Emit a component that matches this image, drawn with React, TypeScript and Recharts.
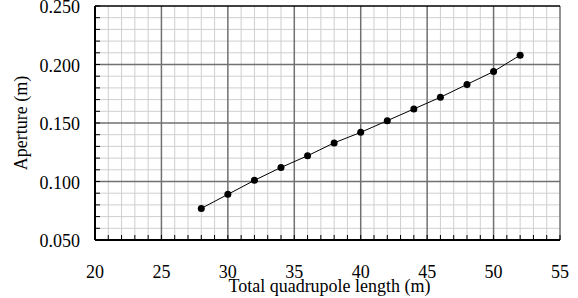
import React from 'react';
import { LineChart, Line, XAxis, YAxis, ReferenceLine, Label } from 'recharts';

const lengths = [28, 30, 32, 34, 36, 38, 40, 42, 44, 46, 48, 50, 52];
const apertures = [0.077, 0.089, 0.101, 0.112, 0.122, 0.133, 0.142, 0.152, 0.162, 0.172, 0.183, 0.194, 0.208];

const xMajor = [20, 25, 30, 35, 40, 45, 50, 55];
const xMinor = [21, 22, 23, 24, 26, 27, 28, 29, 31, 32, 33, 34, 36, 37, 38, 39, 41, 42, 43, 44, 46, 47, 48, 49, 51, 52, 53, 54];
const yMajor = [0.05, 0.1, 0.15, 0.2, 0.25];
const yMinor = [0.06, 0.07, 0.08, 0.09, 0.11, 0.12, 0.13, 0.14, 0.16, 0.17, 0.18, 0.19, 0.21, 0.22, 0.23, 0.24];

const data = lengths.map((len, i) => ({ len, ap: apertures[i] }));
const xTicks = [...xMajor, ...xMinor].sort((a, b) => a - b);
const yTicks = [...yMajor, ...yMinor].sort((a, b) => a - b);

const FONT = '"Liberation Serif", "Times New Roman", serif';

const XTick = (props: any) => {
  const { x, y, payload } = props;
  const major = xMajor.includes(payload.value);
  return (
    <g>
      <line x1={x} y1={y} x2={x} y2={y - 5} stroke="#000" strokeWidth={1} />
      {major && (
        <text x={x} y={y + 38} textAnchor="middle" fontSize={18} fontFamily={FONT} fill="#000">
          {payload.value}
        </text>
      )}
    </g>
  );
};

const YTick = (props: any) => {
  const { x, y, payload } = props;
  const major = yMajor.some((v) => Math.abs(v - payload.value) < 1e-6);
  return (
    <g>
      <line x1={x} y1={y} x2={x + 5} y2={y} stroke="#000" strokeWidth={1} />
      {major && (
        <text x={x - 15} y={y + 7} textAnchor="end" fontSize={18} fontFamily={FONT} fill="#000">
          {payload.value.toFixed(3)}
        </text>
      )}
    </g>
  );
};

export default function App() {
  return (
    <div style={{ position: 'absolute', left: 0, top: 0, width: 578, height: 298, background: '#fff', fontFamily: FONT }}>
      <LineChart width={578} height={298} data={data} margin={{ top: 6, right: 18, left: 0, bottom: 0 }}>
        {xMinor.map((v) => (
          <ReferenceLine key={`xm${v}`} x={v} stroke="#cfcfcf" strokeWidth={1} />
        ))}
        {yMinor.map((v) => (
          <ReferenceLine key={`ym${v}`} y={v} stroke="#cfcfcf" strokeWidth={1} />
        ))}
        {xMajor.map((v) => (
          <ReferenceLine key={`xM${v}`} x={v} stroke="#707070" strokeWidth={1.5} />
        ))}
        {yMajor.map((v) => (
          <ReferenceLine key={`yM${v}`} y={v} stroke={v === 0.25 ? '#000' : '#707070'} strokeWidth={1.5} />
        ))}
        <XAxis
          dataKey="len"
          type="number"
          domain={[20, 55]}
          ticks={xTicks}
          interval={0}
          height={58}
          tickSize={0}
          tickMargin={0}
          tickLine={false}
          axisLine={{ stroke: '#000', strokeWidth: 2 }}
          tick={<XTick />}
        >
          <Label value="Total quadrupole length (m)" position="insideBottom" offset={6} dx={2} fill="#000" stroke="none" fontSize={18} fontFamily={FONT} />
        </XAxis>
        <YAxis
          type="number"
          domain={[0.05, 0.25]}
          ticks={yTicks}
          interval={0}
          width={95}
          tickSize={0}
          tickMargin={0}
          tickLine={false}
          axisLine={{ stroke: '#000', strokeWidth: 2 }}
          tick={<YTick />}
        >
          <Label value="Aperture (m)" angle={-90} position="center" dx={-27} fill="#000" stroke="none" fontSize={18} fontFamily={FONT} />
        </YAxis>
        <Line
          type="linear"
          dataKey="ap"
          stroke="#000"
          strokeWidth={1}
          dot={{ r: 3.5, fill: '#000', stroke: '#000', strokeWidth: 0 }}
          isAnimationActive={false}
        />
      </LineChart>
    </div>
  );
}
